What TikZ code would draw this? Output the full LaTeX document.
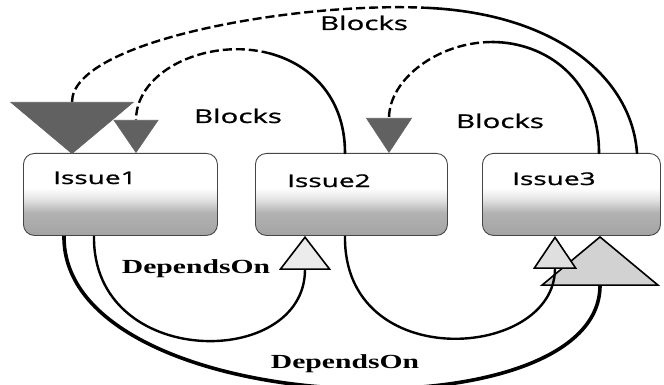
\documentclass[tikz,border=0pt]{standalone}
\usepackage{fontspec}
\usetikzlibrary{arrows.meta}
\newfontfamily\blocksfont[FakeStretch=1.55,FakeBold=1]{Open Sans}
\newfontfamily\issuefont[FakeStretch=1.6,FakeBold=1]{Open Sans}
\newfontfamily\relfont[FakeStretch=1.48]{Liberation Serif}
% soft white-to-grey fill of the issue cards (25bp = bottom, 75bp = top)
\pgfdeclareverticalshading{issueshade}{100bp}{%
  color(0bp)=(gray!72); color(25bp)=(gray!72); color(39bp)=(gray!60);
  color(47bp)=(gray!22); color(54bp)=(white); color(100bp)=(white)}
\begin{document}
\begin{tikzpicture}[x=1pt,y=-1pt,
  issuebox/.style={draw=gray!55!black, line width=0.9pt, rounded corners=11pt,
    shading=issueshade, minimum height=82pt, inner sep=0pt, anchor=north west},
  issuetxt/.style={font=\issuefont\fontsize{17.5}{19}\selectfont, anchor=base west, inner sep=0pt},
  blockslbl/.style={font=\blocksfont\fontsize{19}{21}\selectfont, anchor=base, inner sep=0pt},
  deplbl/.style={font=\relfont\bfseries\fontsize{20}{22}\selectfont, anchor=base, inner sep=0pt},
  blocksolid/.style={line width=2.6pt, line cap=round},
  blockdash/.style={line width=2.4pt, dash pattern=on 9pt off 4pt},
  dependline/.style={line width=2.4pt},
  dependthick/.style={line width=3.6pt}
]
\useasboundingbox (0,0) rectangle (664,385);

% issue cards
\node[issuebox, minimum width=194pt] (i1) at (23,153) {};
\node[issuebox, minimum width=192pt] (i2) at (255,153) {};
\node[issuebox, minimum width=178pt] (i3) at (482,153) {};
\node[issuetxt] (t1) at (53,184) {Issue1};
\node[issuetxt] (t2) at (287,187) {Issue2};
\node[issuetxt] (t3) at (512,185) {Issue3};

% split points where the Blocks arcs change from solid to dashed
\coordinate (atop) at (430,8);
\coordinate (btop) at (270.4,53.6);
\coordinate (ctop) at (492,42);

% Issue3 blocks Issue1 (outer arc)
\draw[blocksolid] ([xshift=155pt]i3.north west) .. controls (632,80) and (560,15) .. (atop);
\draw[blockdash, -{Triangle[length=52pt,width=124pt,fill=black!62,color=black!62,line width=0.6pt]}]
  (atop) .. controls (300,1) and (72,40) .. ([xshift=49pt,yshift=-1pt]i1.north west);

% Issue2 blocks Issue1
\draw[blocksolid] ([xshift=90pt]i2.north west) .. controls (345,97.8) and (311.1,64.7) .. (btop);
\draw[blockdash, -{Triangle[length=33pt,width=45pt,fill=black!62,color=black!62,line width=0.6pt]}]
  (btop) .. controls (209.3,36.9) and (136,69.8) .. ([xshift=113pt]i1.north west);

% Issue3 blocks Issue2
\draw[blocksolid] ([xshift=117pt]i3.north west) .. controls (599,79) and (545.5,42) .. (ctop);
\draw[blockdash, -{Triangle[length=35pt,width=46pt,fill=black!62,color=black!62,line width=0.6pt]}]
  (ctop) .. controls (438.5,42) and (389,79) .. ([xshift=134pt]i2.north west);

% DependsOn relations
\draw[dependline, -{Triangle[length=34pt,width=52pt,fill=gray!15,line width=1.6pt]}]
  ([xshift=71pt]i1.south west) .. controls (92,370) and (305,370) .. ([xshift=50pt]i2.south west);
\draw[dependthick, -{Triangle[length=50pt,width=120pt,fill=gray!35,line width=1.6pt]}]
  ([xshift=41pt]i1.south west) .. controls (62,420) and (600,440) .. ([xshift=118pt]i3.south west);
\draw[dependline, -{Triangle[length=33pt,width=44pt,fill=gray!25,line width=1.6pt]}]
  ([xshift=90pt]i2.south west) .. controls (343,375) and (555,360) .. ([xshift=73pt]i3.south west);

% relation labels
\node[blockslbl] (lb1) at (238,123) {Blocks};
\node[blockslbl] (lb2) at (500,128) {Blocks};
\node[blockslbl] (lb3) at (364,30) {Blocks};
\node[deplbl] (ld1) at (196,273) {DependsOn};
\node[deplbl] (ld2) at (345,368) {DependsOn};
\end{tikzpicture}
\end{document}
